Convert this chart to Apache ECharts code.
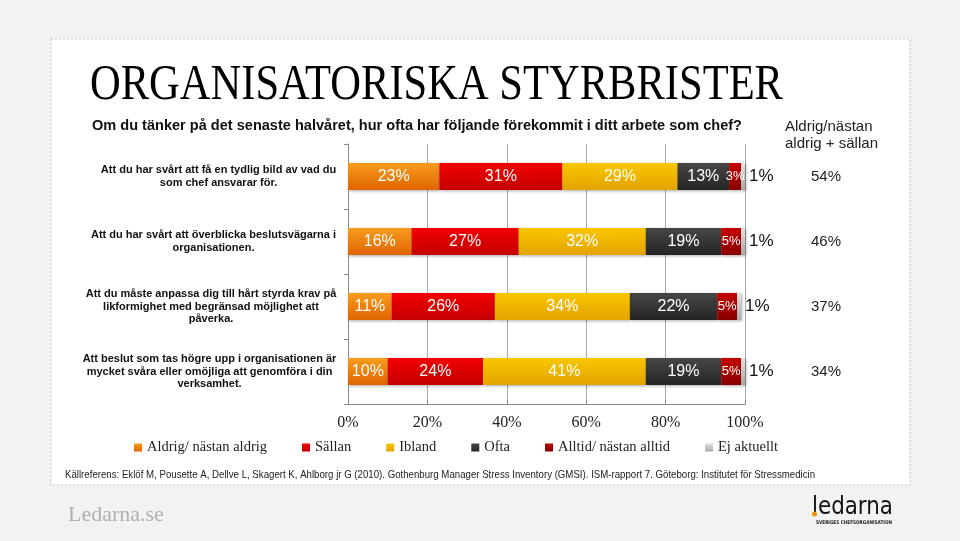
<!DOCTYPE html>
<html><head><meta charset="utf-8">
<script src="https://cdn.jsdelivr.net/npm/echarts@6/dist/echarts.min.js"></script>
<style>html,body{margin:0;padding:0;background:#f2f2f2}#c{width:960px;height:541px}</style>
</head><body><div id="c"></div>
<script>
const categories = [
  "Att du har svårt att få en tydlig bild av vad du\nsom chef ansvarar för.",
  "Att du har svårt att överblicka beslutsvägarna i\norganisationen.",
  "Att du måste anpassa dig till hårt styrda krav på\nlikformighet med begränsad möjlighet att\npåverka.",
  "Att beslut som tas högre upp i organisationen är\nmycket svåra eller omöjliga att genomföra i din\nverksamhet."
];
const seriesNames = ["Aldrig/ nästan aldrig","Sällan","Ibland","Ofta","Alltid/ nästan alltid","Ej aktuellt"];
const aldrig = [23,16,11,10];
const sallan = [31,27,26,24];
const ibland = [29,32,34,41];
const ofta   = [13,19,22,19];
const alltid = [3,5,5,5];
const ejAktuellt = [1,1,1,1];
const totals = ["54%","46%","37%","34%"];
const xTicks = [0,20,40,60,80,100];

const values = [aldrig,sallan,ibland,ofta,alltid,ejAktuellt];
const grads = [["#f79d1e","#e06400"],["#f20000","#c40000"],["#f9c600","#e3a400"],["#474747","#242424"],["#c60000","#880000"],["#e2e2e2","#a8a8a8"]];

const ctx = document.createElement('canvas').getContext('2d');
function tw(t, f){ ctx.font = f; return ctx.measureText(t).width; }

const yFontFam = '"Liberation Sans",Arial,sans-serif';
const yFont = 'bold 11px ' + yFontFam;
const rich = {};
categories.forEach((c,i)=>{
  const w = Math.max(...c.split('\n').map(l=>tw(l,yFont)));
  rich['c'+i] = {width: Math.ceil(w)+1, align:'center', fontSize:11, fontWeight:'bold', fontFamily:yFontFam, color:'#111', lineHeight:12.5};
});

function grad(c){ return new echarts.graphic.LinearGradient(0,0,0,1,[{offset:0,color:c[0]},{offset:1,color:c[1]}]); }

const series = values.map((v,i)=>({
  name: seriesNames[i], type:'bar', stack:'s', barWidth:27, yAxisIndex:0,
  data: v,
  itemStyle:{color:grad(grads[i]), shadowColor:'rgba(0,0,0,0.35)', shadowBlur:3, shadowOffsetX:1, shadowOffsetY:1},
  label: i<5 ? {show:true, position:'inside', color:'#fff', fontFamily:'"Liberation Sans",Arial', fontSize: i===4?13:16, formatter:'{c}%'}
             : {show:true, position:'right', distance:4, color:'#111', fontFamily:'"Liberation Sans",Arial', fontSize:17, formatter:'{c}%'},
  emphasis:{disabled:true}
}));

function scaledText(x,y,text,font,fill,targetW,extra){
  const s = targetW ? targetW / tw(text,font) : 1;
  return Object.assign({type:'text', x:x, y:y, scaleX:s, style:{text:text, font:font, fill:fill, textVerticalAlign:'middle'}}, extra||{});
}

const chart = echarts.init(document.getElementById('c'));
chart.setOption({
  backgroundColor:'#f2f2f2',
  animation:false,
  graphic:[
    {type:'rect', shape:{x:51,y:39,width:859,height:446}, style:{fill:'#fff', stroke:'#c4c4c4', lineDash:[2,2], lineWidth:1}, z:-10},
    scaledText(90,86,"ORGANISATORISKA STYRBRISTER",'51px "Liberation Serif","Times New Roman",serif','#000',693),
    scaledText(92,126,"Om du tänker på det senaste halvåret, hur ofta har följande förekommit i ditt arbete som chef?",'bold 15px "Liberation Sans",Arial,sans-serif','#111',650),
    {type:'text', x:785, y:118, style:{text:"Aldrig/nästan\naldrig + sällan", font:'15px "Liberation Sans",Arial,sans-serif', fill:'#222', lineHeight:17, textVerticalAlign:'top'}},
    scaledText(65,475,"Källreferens: Eklöf M, Pousette A, Dellve L, Skagert K, Ahlborg jr G (2010). Gothenburg Manager Stress Inventory (GMSI). ISM-rapport 7. Göteborg: Institutet för Stressmedicin",'11px "Liberation Sans",Arial,sans-serif','#222',750),
    {type:'text', x:68, y:515, style:{text:"Ledarna.se", font:'22px "Liberation Serif",serif', fill:'#b0b0b0', textVerticalAlign:'middle'}},
    scaledText(812,508,"ledarna",'24px "DejaVu Sans",sans-serif','#111',81),
    {type:'circle', shape:{cx:814.5,cy:514,r:2.5}, style:{fill:'#f39200'}},
    scaledText(816,523,"SVERIGES CHEFSORGANISATION",'bold 5px "DejaVu Sans",sans-serif','#222',76)
  ],
  legend:{
    data:seriesNames, left:129, top:435, itemWidth:8, itemHeight:8, itemGap:35, icon:'rect',
    textStyle:{fontFamily:'"Liberation Serif","Times New Roman",serif', fontSize:14.5, color:'#222'},
    selectedMode:false
  },
  grid:{left:348, right:215, top:144, bottom:137},
  xAxis:{
    type:'value', min:0, max:100, interval:20,
    axisLine:{show:true, lineStyle:{color:'#888'}},
    axisTick:{show:true, inside:true, length:4, lineStyle:{color:'#888'}},
    splitLine:{show:true, lineStyle:{color:'#a8a8a8', width:1}},
    axisLabel:{formatter:v=>xTicks.includes(v)?v+'%':'', margin:11, color:'#222', fontFamily:'"Liberation Serif","Times New Roman",serif', fontSize:16}
  },
  yAxis:[{
    type:'category', inverse:true, data:categories,
    axisLine:{show:true, lineStyle:{color:'#888'}},
    axisTick:{show:true, length:4, lineStyle:{color:'#888'}},
    axisLabel:{margin:11, align:'right', rich:rich,
      formatter:(v,i)=>v.split('\n').map(l=>'{c'+i+'|'+l+'}').join('\n')}
  },{
    type:'category', inverse:true, data:totals, position:'right',
    axisLine:{show:false}, axisTick:{show:false}, splitLine:{show:false},
    axisLabel:{margin:81, align:'center', color:'#222', fontFamily:'"Liberation Sans",Arial,sans-serif', fontSize:15}
  }],
  series:series
});
</script></body></html>
